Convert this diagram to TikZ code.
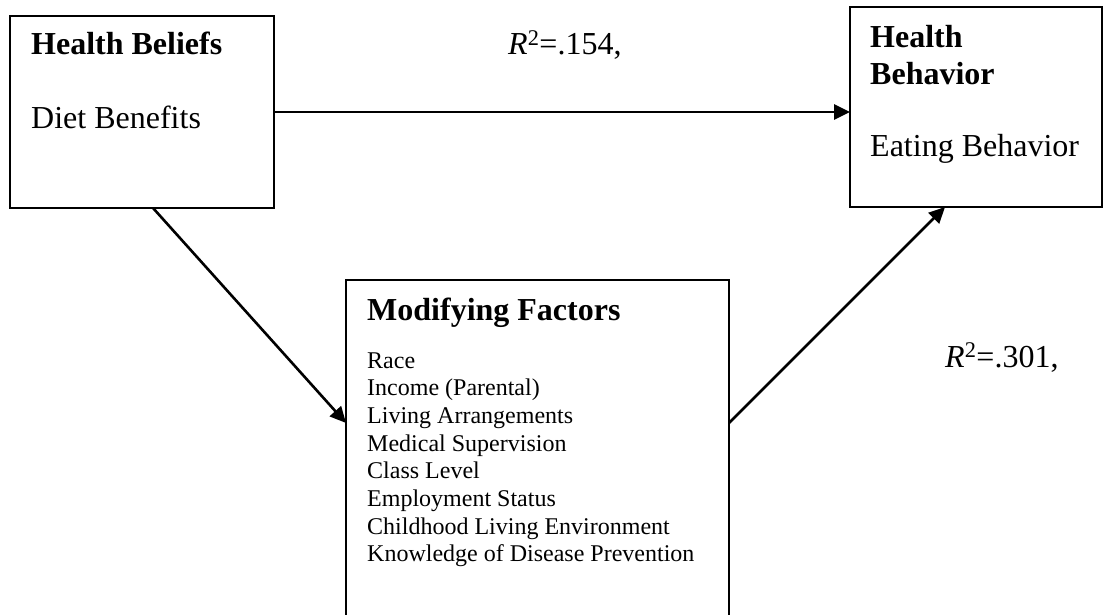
\documentclass[tikz,border=0pt]{standalone}
\usepackage{fontspec}
\setmainfont{Liberation Serif}
\usetikzlibrary{arrows.meta}
\begin{document}
\begin{tikzpicture}[x=1pt,y=-1pt,
  box/.style={draw, line width=2.4pt, inner sep=0pt, outer sep=0pt},
  arr/.style={line width=2.6pt, -{Triangle[length=16pt,width=15pt]}},
  big/.style={anchor=base west, inner sep=0pt, font=\fontsize{32}{38}\selectfont},
  bigb/.style={big, font=\fontsize{32}{38}\selectfont\bfseries},
  small/.style={anchor=base west, inner sep=0pt, font=\fontsize{24}{27.7}\selectfont}]
\useasboundingbox (0,0) rectangle (1106,615);
\clip (0,0) rectangle (1106,615);

% boxes
\node[box, minimum width=264pt, minimum height=192pt] (b1) at (142,112) {};
\node[box, minimum width=252pt, minimum height=200pt] (b2) at (976,107) {};
\node[box, minimum width=383pt, minimum height=370pt] (b3) at (537.5,465) {};

% box texts
\node[bigb] (hb) at (31,55) {Health Beliefs};
\node[big] (db) at (31,129) {Diet Benefits};
\node[bigb] (hh) at (870,48) {Health};
\node[bigb] (hv) at (870,85) {Behavior};
\node[big] (eb) at (870,157) {Eating Behavior};
\node[bigb] (mf) at (367,320) {Modifying Factors};
\foreach \t [count=\i from 0] in {Race, Income (Parental), Living Arrangements,
    Medical Supervision, Class Level, Employment Status,
    Childhood Living Environment, Knowledge of Disease Prevention}
  \node[small] (f\i) at (367,368+27.7*\i) {\t};

% path labels
\node[big] (r1) at (508,55) {\textit{R}\textsuperscript{2}=.154,};
\node[big] (r2) at (945,367) {\textit{R}\textsuperscript{2}=.301,};

% connectors
\draw[arr] (b1.east) -- (b1.east -| b2.west);
\draw[arr] ([xshift=11pt]b1.south) -- ([yshift=42pt]b3.west);
\draw[arr] ([yshift=42pt]b3.east) -- ([xshift=-31pt]b2.south);
\end{tikzpicture}
\end{document}
